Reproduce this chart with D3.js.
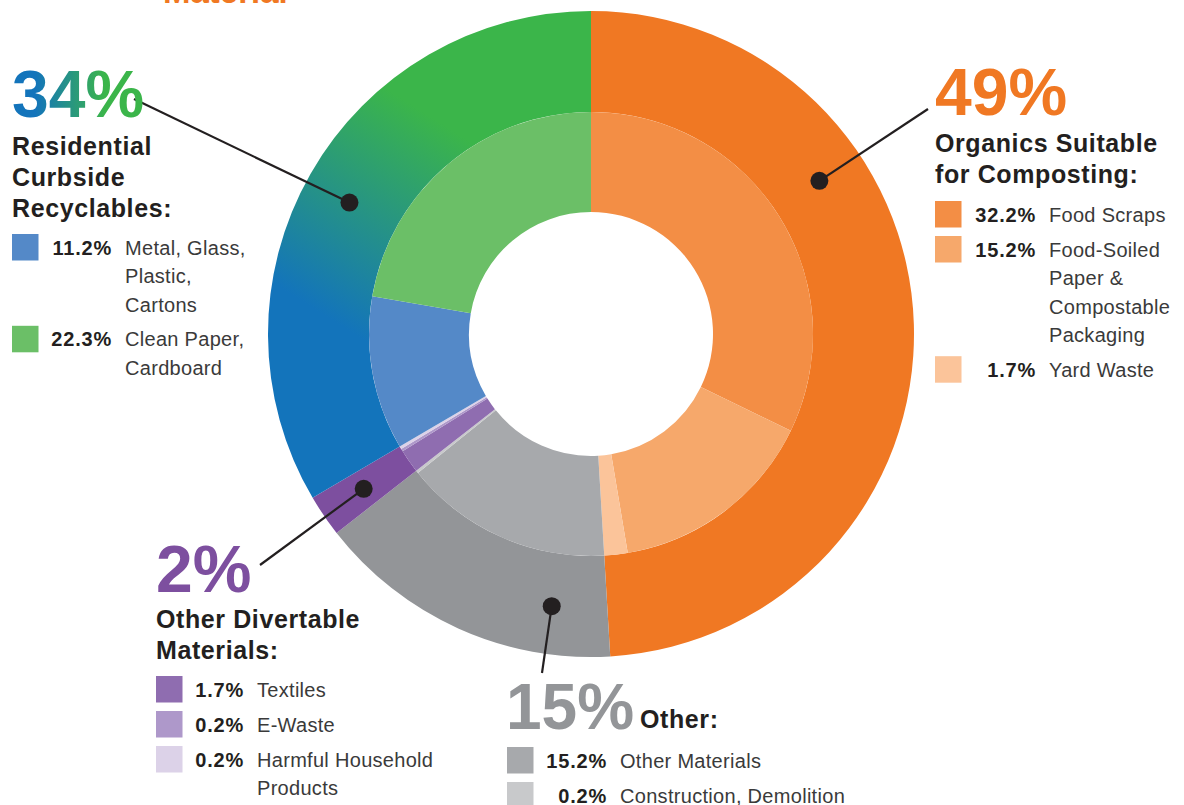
<!DOCTYPE html>
<html>
<head>
<meta charset="utf-8">
<script src="https://cdn.jsdelivr.net/npm/d3@7"></script>
<style>
    body { margin: 0; background: #fff; }
    svg { display: block; font-family: "Liberation Sans", Arial, sans-serif; }
</style>
</head>
<body>
<div id="chart"></div>
<script>
// groups (outer ring)
const groupPercents = ["49%", "15%", "2%", "34%"];
const groupTitles = [
    ["Organics Suitable", "for Composting:"],
    ["Other:"],
    ["Other Divertable", "Materials:"],
    ["Residential", "Curbside", "Recyclables:"]
];

// materials (inner ring), clockwise from 12 o'clock
const materialLabels = [
    ["Food Scraps"],
    ["Food-Soiled", "Paper &", "Compostable", "Packaging"],
    ["Yard Waste"],
    ["Other Materials"],
    ["Construction, Demolition"],
    ["Textiles"],
    ["E-Waste"],
    ["Harmful Household", "Products"],
    ["Metal, Glass,", "Plastic,", "Cartons"],
    ["Clean Paper,", "Cardboard"]
];
const materialValues = [32.2, 15.2, 1.7, 15.2, 0.2, 1.7, 0.2, 0.2, 11.2, 22.3];
const materialGroup = [0, 0, 0, 1, 1, 2, 2, 2, 3, 3];

const groupColors = ["#f07823", "#939598", "#7d4f9f", "url(#recycleGrad)"];
const numberColors = ["#f07823", "#939598", "#7d4f9f", "url(#numGrad)"];
const materialColors = ["#f38e45", "#f6a86b", "#fbc49a", "#a7a9ac", "#c8c9cb",
    "#8f6db0", "#ae98ca", "#dcd2e8", "#5489c8", "#6bbf67"];

const width = 1184, height = 805;
const cx = 591, cy = 334;
const rHole = 122, rMid = 222, rOuter = 323;
const ink = "#231f20";

// where each group's text block sits
const layout = [
    {num: [935, 115, 66], title: [935, 151.7], legend: [935, 201], pctX: 101, labX: 114, lead: [928, 109], dotAt: 0.318},
    {num: [506, 729, 64], title: [640, 727.5], legend: [507, 747], pctX: 100, labX: 113, lead: [542, 673], dotAt: 0.21},
    {num: [156, 592, 66], title: [156, 628.3], legend: [156, 676], pctX: 88, labX: 101, lead: [260, 565], dotAt: 0.5},
    {num: [12, 117, 66], title: [12, 155], legend: [12, 234], pctX: 100, labX: 113, lead: [134, 99], dotAt: 0.49}
];

const svg = d3.select("#chart")
    .append("svg")
    .attr("width", width)
    .attr("height", height);

const defs = svg.append("defs");

const g1 = defs.append("linearGradient")
    .attr("id", "recycleGrad")
    .attr("gradientUnits", "userSpaceOnUse")
    .attr("x1", 300 - cx).attr("y1", 300 - cy)
    .attr("x2", 420 - cx).attr("y2", 110 - cy);
g1.append("stop").attr("offset", 0).attr("stop-color", "#1374bb");
g1.append("stop").attr("offset", 1).attr("stop-color", "#3bb54a");

const g2 = defs.append("linearGradient")
    .attr("id", "numGrad")
    .attr("gradientUnits", "userSpaceOnUse")
    .attr("x1", 35).attr("y1", 0)
    .attr("x2", 105).attr("y2", 0);
g2.append("stop").attr("offset", 0).attr("stop-color", "#1374bb");
g2.append("stop").attr("offset", 1).attr("stop-color", "#3bb54a");

// cut-off title at the top
svg.append("text")
    .attr("x", 163).attr("y", 3)
    .attr("font-size", 33).attr("font-weight", "bold")
    .attr("fill", "#f07823")
    .text("Material");

const donut = svg.append("g")
    .attr("transform", `translate(${cx},${cy})`);

const pie = d3.pie().sort(null).value(d => d);
const arcsInner = pie(materialValues);

// outer ring arcs span the children of each group
const arcsOuter = groupPercents.map((p, gi) => {
    const kids = arcsInner.filter((a, i) => materialGroup[i] == gi);
    return {startAngle: kids[0].startAngle, endAngle: kids[kids.length - 1].endAngle, group: gi};
});

const arcOuter = d3.arc().innerRadius(rMid).outerRadius(rOuter);
const arcInner = d3.arc().innerRadius(rHole).outerRadius(rMid);

donut.selectAll(".outer")
    .data(arcsOuter)
    .join("path")
    .attr("class", "outer")
    .attr("d", arcOuter)
    .attr("fill", d => groupColors[d.group]);

donut.selectAll(".inner")
    .data(arcsInner)
    .join("path")
    .attr("class", "inner")
    .attr("d", arcInner)
    .attr("fill", (d, i) => materialColors[i]);

// leader lines + dots
const rDot = 275;
arcsOuter.forEach((a, gi) => {
    const L = layout[gi];
    const ang = a.startAngle + (a.endAngle - a.startAngle) * L.dotAt;
    const dx = cx + rDot * Math.sin(ang);
    const dy = cy - rDot * Math.cos(ang);
    svg.append("line")
        .attr("x1", L.lead[0]).attr("y1", L.lead[1])
        .attr("x2", dx).attr("y2", dy)
        .attr("stroke", ink).attr("stroke-width", 2.2);
    svg.append("circle")
        .attr("cx", dx).attr("cy", dy).attr("r", 9)
        .attr("fill", ink);
});

// text blocks
groupPercents.forEach((pct, gi) => {
    const L = layout[gi];
    svg.append("text")
        .attr("x", L.num[0]).attr("y", L.num[1])
        .attr("font-size", L.num[2]).attr("font-weight", "bold")
        .attr("fill", numberColors[gi])
        .text(pct);

    groupTitles[gi].forEach((line, k) => {
        svg.append("text")
            .attr("x", L.title[0]).attr("y", L.title[1] + k * 30.8)
            .attr("font-size", 25).attr("font-weight", "bold")
            .attr("letter-spacing", 0.6)
            .attr("fill", ink)
            .text(line);
    });

    let y = L.legend[1];
    materialValues.forEach((v, i) => {
        if (materialGroup[i] != gi) return;
        const item = svg.append("g")
            .attr("transform", `translate(${L.legend[0]},${y})`);
        item.append("rect")
            .attr("width", 26.5).attr("height", 26.5)
            .attr("fill", materialColors[i]);
        item.append("text")
            .attr("x", L.pctX).attr("y", 20.7)
            .attr("text-anchor", "end")
            .attr("font-size", 20).attr("font-weight", "bold")
            .attr("letter-spacing", 0.8)
            .attr("fill", ink)
            .text(v.toFixed(1) + "%");
        materialLabels[i].forEach((line, k) => {
            item.append("text")
                .attr("x", L.labX).attr("y", 20.7 + k * 28.4)
                .attr("font-size", 20)
                .attr("letter-spacing", 0.3)
                .attr("fill", "#3a3a3a")
                .text(line);
        });
        y += 35 + (materialLabels[i].length - 1) * 28.4;
    });
});
</script>
</body>
</html>
